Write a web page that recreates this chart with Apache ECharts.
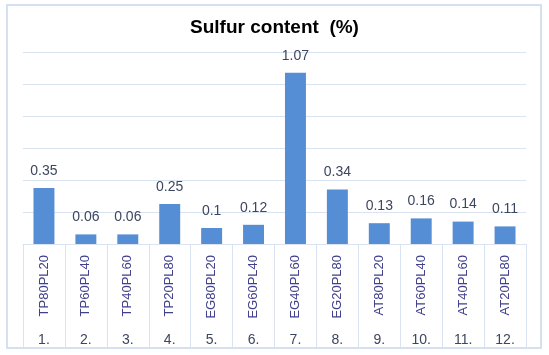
<!DOCTYPE html>
<html>
<head>
<meta charset="utf-8">
<script src="https://cdn.jsdelivr.net/npm/echarts@6/dist/echarts.min.js"></script>
<style>
  html, body { margin: 0; padding: 0; background: #fff; }
  #chart { width: 549px; height: 355px; }
</style>
</head>
<body>
<div id="chart"></div>
<script>
// sample codes and their running numbers
var samples = ['TP80PL20', 'TP60PL40', 'TP40PL60', 'TP20PL80', 'EG80PL20', 'EG60PL40',
               'EG40PL60', 'EG20PL80', 'AT80PL20', 'AT60PL40', 'AT40PL60', 'AT20PL80'];
var numbers = ['1.', '2.', '3.', '4.', '5.', '6.', '7.', '8.', '9.', '10.', '11.', '12.'];
var sulfur = [0.35, 0.06, 0.06, 0.25, 0.1, 0.12, 1.07, 0.34, 0.13, 0.16, 0.14, 0.11];

var lineCol = '#d9e3f1';
var font = 'Liberation Sans';

var myChart = echarts.init(document.getElementById('chart'));

var option = {
    animation: false,
    title: {
        text: 'Sulfur content  (%)',
        left: 'center',
        top: 13,
        textStyle: { fontFamily: font, fontSize: 19, fontWeight: 'bold', color: '#000' }
    },
    grid: { left: 23, right: 23, top: 52, bottom: 111 },
    xAxis: [{
        type: 'category',
        data: samples,
        axisLine: { lineStyle: { color: lineCol, width: 1 } },
        axisTick: { show: true, length: 104, alignWithLabel: false, lineStyle: { color: lineCol } },
        axisLabel: {
            interval: 0, rotate: 90, margin: 11,
            fontFamily: font, fontSize: 13, color: '#40408c'
        }
    }, {
        type: 'category',
        data: numbers,
        position: 'bottom',
        axisLine: { show: false },
        axisTick: { show: false },
        axisLabel: { interval: 0, margin: 89, fontFamily: font, fontSize: 14, color: '#3c4660' }
    }],
    yAxis: {
        type: 'value',
        min: 0, max: 1.2, interval: 0.2,
        axisLabel: { show: false },
        axisLine: { show: false },
        axisTick: { show: false },
        splitLine: { lineStyle: { color: lineCol } }
    },
    series: [{
        type: 'bar',
        data: sulfur,
        barWidth: '50%',
        itemStyle: { color: '#558ed5' },
        label: {
            show: true, position: 'top', distance: 10,
            fontFamily: font, fontSize: 14, color: '#3c4660'
        }
    }],
    graphic: [{
        type: 'rect',
        shape: { x: 7, y: 5, width: 534, height: 343 },
        style: { fill: 'none', stroke: '#d5e1f0', lineWidth: 2 },
        silent: true
    }]
};

myChart.setOption(option);
</script>
</body>
</html>
